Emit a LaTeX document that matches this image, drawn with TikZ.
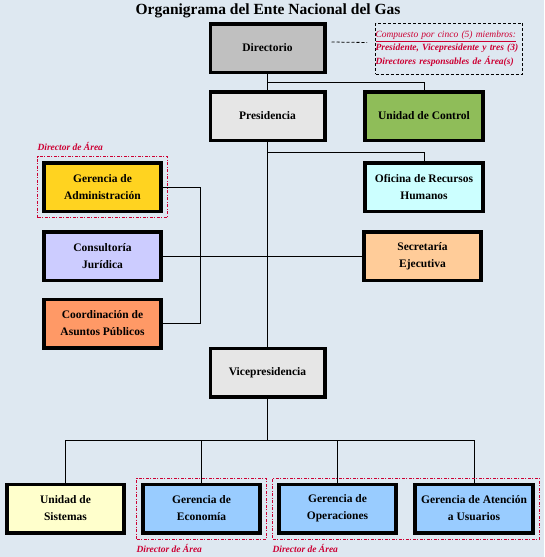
\documentclass[tikz,border=0pt]{standalone}
\usepackage{fontspec}
\setmainfont{Liberation Serif}
\usepackage{tikz}
\usetikzlibrary{positioning, calc, fit}
\definecolor{fondo}{RGB}{222,232,241}
\definecolor{rojo}{RGB}{204,0,51}
\definecolor{gris}{RGB}{192,192,192}
\definecolor{grisclaro}{RGB}{230,230,230}
\definecolor{verde}{RGB}{143,189,89}
\definecolor{celeste}{RGB}{204,255,255}
\definecolor{salmon}{RGB}{255,204,153}
\definecolor{oro}{RGB}{255,211,32}
\definecolor{lila}{RGB}{204,204,255}
\definecolor{naranja}{RGB}{255,153,102}
\definecolor{crema}{RGB}{255,255,204}
\definecolor{azul}{RGB}{153,204,255}

\begin{document}
\begin{tikzpicture}[x=1pt,y=-1pt,
  caja/.style={draw, line width=3.5pt, minimum width=114.5pt, minimum height=48.5pt,
    inner sep=2pt, align=center, font=\fontsize{11.5}{17}\selectfont\bfseries},
  area/.style={draw=rojo, line width=0.8pt, inner sep=4.5pt,
    dash pattern=on 3pt off 1.5pt on 1pt off 1.5pt},
  rotulo/.style={text=rojo, inner sep=0pt, font=\fontsize{9.5}{13.5}\selectfont\bfseries\itshape},
  linea/.style={line width=0.9pt}]
  \useasboundingbox[fill=fondo] (0,0) rectangle (544,557);
  \node[anchor=base, font=\fontsize{15.5}{18}\selectfont\bfseries] (titulo) at (268,14)
    {Organigrama del Ente Nacional del Gas};

  % cajas
  \node[caja, fill=gris] (dir) at (267.5,48) {Directorio};
  \node[caja, fill=grisclaro] (pres) at (267.5,116) {Presidencia};
  \node[caja, fill=verde, minimum width=118pt] (uctrl) at (424,116) {Unidad de Control};
  \node[caja, fill=celeste, minimum width=118pt] (rrhh) at (424,187) {Oficina de Recursos\\Humanos};
  \node[caja, fill=salmon, minimum width=117pt] (secre) at (422.5,256) {Secretaría\\Ejecutiva};
  \node[caja, fill=oro, minimum width=117pt] (gadm) at (102.5,187) {Gerencia de\\Administración};
  \node[caja, fill=lila, minimum width=117pt] (consul) at (102.5,256) {Consultoría\\Jurídica};
  \node[caja, fill=naranja, minimum width=117pt] (coord) at (102.5,323.5) {Coordinación de\\Asuntos Públicos};
  \node[caja, fill=grisclaro] (vice) at (267.5,372.5) {Vicepresidencia};
  \node[caja, fill=crema, minimum width=117pt] (sist) at (65.5,508.5) {Unidad de\\Sistemas};
  \node[caja, fill=azul, minimum width=117pt] (econ) at (201.5,508.5) {Gerencia de\\Economía};
  \node[caja, fill=azul, minimum width=117pt] (oper) at (337.5,508.5) {Gerencia de\\Operaciones};
  \node[caja, fill=azul, minimum width=118pt] (aten) at (474,508.5) {Gerencia de Atención\\a Usuarios};

  % nota del directorio
  \node[draw, densely dashed, line width=0.8pt, minimum height=51pt, text width=147pt,
    inner sep=7.5pt, align=left, rotulo] (nota) at (449,48.5)
    {{\mdseries\underline{Compuesto por cinco (5) miembros:}}\\
     Presidente, Vicepresidente y tres (3)\\
     Directores responsables de Área(s)};
  \draw[densely dashed, line width=0.8pt] ($(dir.east)+(5,-6)$) -- ($(nota.west)+(-8,-6)$);

  % conectores
  \coordinate (p1) at (267.5,82);
  \coordinate (p2) at (267.5,152);
  \coordinate (bus) at (267.5,440);
  \draw[linea] (dir.south) -- (pres.north);
  \draw[linea] (p1) -| (uctrl.north);
  \draw[linea] (pres.south) -- (vice.north);
  \draw[linea] (p2) -| (rrhh.north);
  \draw[linea] (consul.east) -- (secre.west);
  \draw[linea] (gadm.east) -- ++(38,0) |- (coord.east);
  \draw[linea] (vice.south) -- (bus);
  \foreach \n in {sist,econ,oper,aten}
    \draw[linea] (bus) -| (\n.north);

  % directores de area
  \node[area, fit=(gadm)] (areaA) {};
  \node[area, fit=(econ)] (areaB) {};
  \node[area, fit=(oper) (aten)] (areaC) {};
  \node[rotulo, anchor=base west] (rotA) at ($(areaA.north west)+(0,-6)$) {Director de Área};
  \node[rotulo, anchor=base west] (rotB) at ($(areaB.south west)+(0,13.5)$) {Director de Área};
  \node[rotulo, anchor=base west] (rotC) at ($(areaC.south west)+(0,13.5)$) {Director de Área};
\end{tikzpicture}
\end{document}
